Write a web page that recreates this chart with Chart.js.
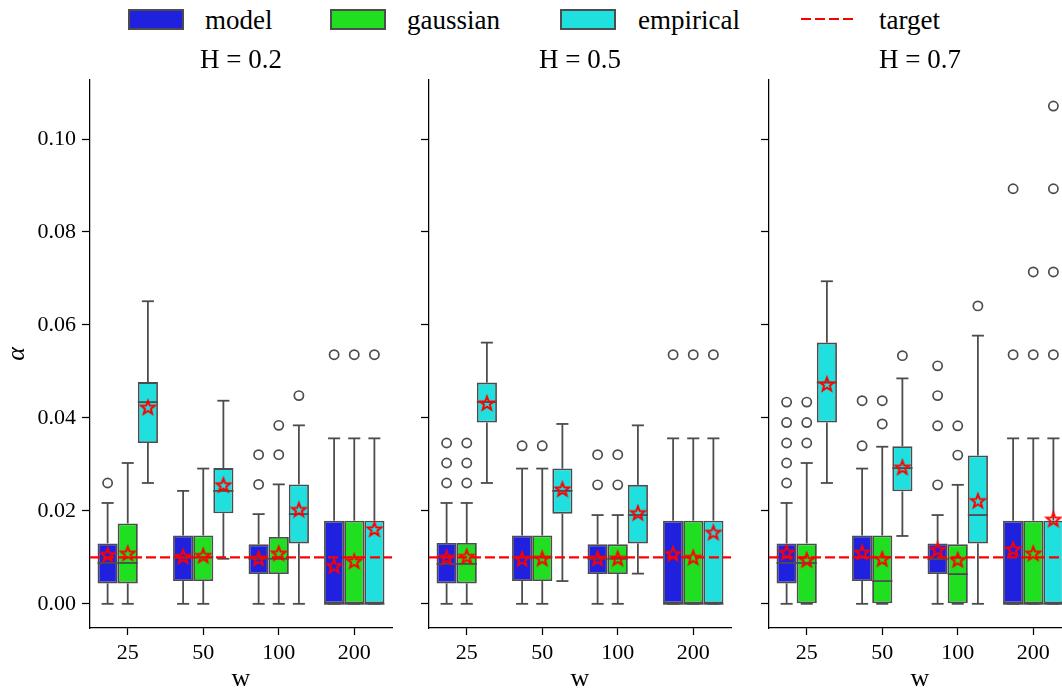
<!DOCTYPE html>
<html><head><meta charset="utf-8">
<script src="https://cdn.jsdelivr.net/npm/chart.js@4"></script>
<style>
html,body{margin:0;padding:0;background:#fff;}
body{width:1062px;height:695px;overflow:hidden;position:relative;font-family:'Liberation Serif',serif;}
canvas{position:absolute;top:0;}
.patch{position:absolute;top:9px;width:56px;height:21px;box-sizing:border-box;border:2px solid #4c4c4c;}
.lt{position:absolute;top:7px;font-size:27px;line-height:27px;color:#000;white-space:nowrap;}
</style></head>
<body>
<div class="patch" style="left:128px;background:#2020df"></div><div class="lt" style="left:205px">model</div>
<div class="patch" style="left:330px;background:#20df20"></div><div class="lt" style="left:407px">gaussian</div>
<div class="patch" style="left:560px;background:#20dfdf"></div><div class="lt" style="left:638px">empirical</div>
<svg style="position:absolute;left:801px;top:14px" width="56" height="10"><line x1="0" y1="5" x2="56" y2="5" stroke="#ff0000" stroke-width="2.2" stroke-dasharray="10 4"/></svg><div class="lt" style="left:879px">target</div>
<script>
// ---- data ----
const W = ['25', '50', '100', '200'];
const H_LABELS = ['H = 0.2', 'H = 0.5', 'H = 0.7'];
const SERIES = ['model', 'gaussian', 'empirical'];
const Y_TICKS = [0, 0.02, 0.04, 0.06, 0.08, 0.10];
const TARGET = 0.01;
// rows per w: [whiskerLow, q1, median, q3, whiskerHigh, mean]
const H02_MODEL = [[0,0.0044,0.0088,0.0130,0.0217,0.0106],[0,0.0049,0.0100,0.0147,0.0243,0.0102],[0,0.0064,0.0097,0.0128,0.0193,0.0098],[0,0,0,0.0179,0.0356,0.0082]];
const H02_MODEL_OUT = [[0.0260],[],[0.0321,0.0257],[0.0536]];
const H02_GAUSS = [[0,0.0044,0.0088,0.0173,0.0303,0.0109],[0,0.0049,0.0100,0.0147,0.0291,0.0104],[0,0.0064,0.0097,0.0144,0.0257,0.0109],[0,0,0,0.0179,0.0356,0.0092]];
const H02_GAUSS_OUT = [[],[],[0.0384,0.0321],[0.0536]];
const H02_EMP = [[0.0260,0.0346,0.0434,0.0477,0.0651,0.0423],[0.0097,0.0195,0.0243,0.0292,0.0437,0.0256],[0,0.0130,0.0193,0.0257,0.0384,0.0203],[0,0,0,0.0179,0.0356,0.0161]];
const H02_EMP_OUT = [[],[],[0.0448],[0.0536]];

const H05_MODEL = [[0,0.0044,0.0086,0.0131,0.0217,0.0100],[0,0.0049,0.0100,0.0147,0.0291,0.0097],[0,0.0064,0.0097,0.0128,0.0191,0.0098],[0,0,0,0.0179,0.0356,0.0108]];
const H05_MODEL_OUT = [[0.0346,0.0303,0.0260],[0.0340],[0.0321,0.0256],[0.0536]];
const H05_GAUSS = [[0,0.0044,0.0086,0.0131,0.0217,0.0102],[0,0.0049,0.0100,0.0147,0.0291,0.0098],[0,0.0064,0.0097,0.0128,0.0191,0.0098],[0,0,0,0.0179,0.0356,0.0100]];
const H05_GAUSS_OUT = [[0.0346,0.0303,0.0260],[0.0340],[0.0321,0.0256],[0.0536]];
const H05_EMP = [[0.0260,0.0390,0.0434,0.0476,0.0562,0.0432],[0.0049,0.0194,0.0243,0.0291,0.0387,0.0247],[0.0065,0.0130,0.0191,0.0256,0.0384,0.0196],[0,0,0,0.0179,0.0356,0.0154]];
const H05_EMP_OUT = [[],[],[],[0.0536]];

const H07_MODEL = [[0,0.0044,0.0088,0.0130,0.0217,0.0111],[0,0.0049,0.0100,0.0147,0.0291,0.0111],[0,0.0064,0.0096,0.0130,0.0191,0.0117],[0,0,0,0.0179,0.0356,0.0118]];
const H07_MODEL_OUT = [[0.0434,0.0390,0.0346,0.0303,0.0260],[0.0437,0.0340],[0.0512,0.0448,0.0383,0.0256],[0.0893,0.0536]];
const H07_GAUSS = [[0,0,0.0088,0.0130,0.0303,0.0095],[0,0,0.0049,0.0147,0.0338,0.0097],[0,0,0.0064,0.0128,0.0256,0.0095],[0,0,0,0.0179,0.0356,0.0109]];
const H07_GAUSS_OUT = [[0.0434,0.0390,0.0346],[0.0437,0.0387],[0.0383,0.0320],[0.0714,0.0536]];
const H07_EMP = [[0.0260,0.0390,0.0476,0.0562,0.0694,0.0473],[0.0146,0.0242,0.0292,0.0339,0.0485,0.0294],[0,0.0130,0.0191,0.0319,0.0577,0.0222],[0,0,0,0.0179,0.0356,0.0182]];
const H07_EMP_OUT = [[],[0.0534],[0.0641],[0.1071,0.0893,0.0714,0.0536]];

const PANELS = [
  [H02_MODEL, H02_GAUSS, H02_EMP, H02_MODEL_OUT, H02_GAUSS_OUT, H02_EMP_OUT],
  [H05_MODEL, H05_GAUSS, H05_EMP, H05_MODEL_OUT, H05_GAUSS_OUT, H05_EMP_OUT],
  [H07_MODEL, H07_GAUSS, H07_EMP, H07_MODEL_OUT, H07_GAUSS_OUT, H07_EMP_OUT]
];

// ---- styles ----
const COLORS = ['#2020df', '#20df20', '#20dfdf'];
const GRAY = '#4c4c4c';
const FONT = "'Liberation Serif', serif";
const AREA_LEFT = [90, 429, 769];
const Y_MIN = -0.0052, Y_MAX = 0.1127;
const GROUP = 0.8;

Chart.defaults.font.family = FONT;
Chart.defaults.color = '#000';

function makeStar() {
  const c = document.createElement('canvas'); c.width = 20; c.height = 20;
  const g = c.getContext('2d'); const R = 7.2, r = R * 0.42;
  g.beginPath();
  for (let k = 0; k < 10; k++) {
    const rad = k % 2 ? r : R; const a = -Math.PI / 2 + k * Math.PI / 5;
    g.lineTo(10 + rad * Math.cos(a), 10.7 + rad * Math.sin(a));
  }
  g.closePath(); g.strokeStyle = '#ff0000'; g.lineWidth = 2; g.lineJoin = 'miter'; g.stroke();
  return c;
}
const STAR = makeStar();

const boxPlugin = {
  id: 'boxparts',
  afterDatasetDraw(chart, args) {
    const meta = args.meta;
    if (meta.type !== 'bar') return;
    const ds = chart.data.datasets[args.index];
    const y = chart.scales.y; const ctx = chart.ctx;
    ctx.save();
    ctx.strokeStyle = GRAY; ctx.lineWidth = 1.8; ctx.lineCap = 'butt';
    meta.data.forEach((el, j) => {
      const p = el.getProps(['x', 'width'], true);
      const s = ds.stats[j];
      const cap = p.width * 0.3;
      const seg = (x1, y1, x2, y2) => { ctx.beginPath(); ctx.moveTo(x1, y1); ctx.lineTo(x2, y2); ctx.stroke(); };
      const yLo = y.getPixelForValue(s[0]), yQ1 = y.getPixelForValue(s[1]), yMed = y.getPixelForValue(s[2]);
      const yQ3 = y.getPixelForValue(s[3]), yHi = y.getPixelForValue(s[4]);
      if (s[1] > s[0]) { seg(p.x, yQ1, p.x, yLo); }
      seg(p.x - cap, yLo, p.x + cap, yLo);
      if (s[4] > s[3]) { seg(p.x, yQ3, p.x, yHi); }
      seg(p.x - cap, yHi, p.x + cap, yHi);
      seg(p.x - p.width / 2, yMed, p.x + p.width / 2, yMed);
    });
    ctx.restore();
  },
  afterDraw(chart) {
    const a = chart.chartArea; const ctx = chart.ctx;
    ctx.save();
    ctx.font = '27px ' + FONT; ctx.fillStyle = '#000'; ctx.textAlign = 'center'; ctx.textBaseline = 'alphabetic';
    ctx.fillText(chart.options.plugins.boxparts.title, (a.left + a.right) / 2, 68);
    ctx.restore();
  }
};

function offsetOf(h) { return (h - 1) * GROUP / 3; }

PANELS.forEach((P, pi) => {
  const cv = document.createElement('canvas');
  cv.width = 402; cv.height = 695;
  cv.style.left = (AREA_LEFT[pi] - 90) + 'px';
  cv.style.width = '402px'; cv.style.height = '695px';
  document.body.appendChild(cv);

  const datasets = [];
  for (let h = 0; h < 3; h++) {
    datasets.push({
      type: 'bar', label: SERIES[h], order: 3,
      data: P[h].map((r, i) => ({ x: i, y: [r[1], r[3]] })), stats: P[h],
      backgroundColor: COLORS[h], borderColor: GRAY, borderWidth: 1.8, borderSkipped: false,
      categoryPercentage: GROUP, barPercentage: 1.0
    });
  }
  datasets.push({
    type: 'line', label: 'target', order: 2,
    data: [{ x: -0.5, y: TARGET }, { x: W.length - 0.5, y: TARGET }],
    borderColor: '#ff0000', borderWidth: 2.2, borderDash: [10, 4], pointRadius: 0, fill: false
  });
  for (let h = 0; h < 3; h++) {
    const pts = [];
    P[3 + h].forEach((arr, i) => arr.forEach(v => pts.push({ x: i + offsetOf(h), y: v })));
    datasets.push({
      type: 'scatter', label: SERIES[h] + ' outliers', order: 1,
      data: pts, pointStyle: 'circle', pointRadius: 4.6, pointBorderWidth: 1.7,
      pointBorderColor: GRAY, pointBackgroundColor: 'rgba(0,0,0,0)'
    });
  }
  for (let h = 0; h < 3; h++) {
    datasets.push({
      type: 'scatter', label: SERIES[h] + ' mean', order: 0,
      data: P[h].map((r, i) => ({ x: i + offsetOf(h), y: r[5] })),
      pointStyle: STAR, pointRadius: 7
    });
  }

  new Chart(cv, {
    type: 'bar',
    data: { datasets },
    options: {
      responsive: false, animation: false, devicePixelRatio: 1,
      layout: { padding: { top: 80, right: 10, left: 0, bottom: 0 } },
      plugins: { legend: { display: false }, tooltip: { enabled: false }, title: { display: false },
        boxparts: { title: H_LABELS[pi] } },
      scales: {
        x: {
          type: 'linear', position: 'bottom', offset: false, min: -0.5, max: W.length - 0.5,
          afterBuildTicks(s) { s.ticks = W.map((_, i) => ({ value: i })); },
          grid: { display: true, drawOnChartArea: false, drawTicks: true, tickLength: 7, tickColor: '#000', tickWidth: 1.25, offset: false },
          border: { display: true, color: '#000', width: 1.25 },
          ticks: { font: { size: 22, family: FONT }, color: '#000', padding: 5, maxRotation: 0,
            callback: v => W[Math.round(v)] },
          title: { display: true, text: 'w', font: { size: 26, family: FONT }, color: '#000', padding: { top: 0, bottom: 0 } },
          afterFit(s) { s.height = 67; }
        },
        y: {
          type: 'linear', position: 'left', min: Y_MIN, max: Y_MAX,
          afterBuildTicks(s) { s.ticks = Y_TICKS.map(v => ({ value: v })); },
          grid: { display: true, drawOnChartArea: false, drawTicks: true, tickLength: 8, tickColor: '#000', tickWidth: 1.25 },
          border: { display: true, color: '#000', width: 1.25 },
          ticks: { display: pi === 0, font: { size: 22, family: FONT }, color: '#000', padding: 6,
            callback: v => v.toFixed(2) },
          title: { display: pi === 0, text: 'α', font: { size: 26, style: 'italic', family: FONT }, color: '#000', padding: { top: 2, bottom: 0 } },
          afterFit(s) { s.width = 90; }
        }
      }
    },
    plugins: [boxPlugin]
  });
});
</script>
</body></html>
